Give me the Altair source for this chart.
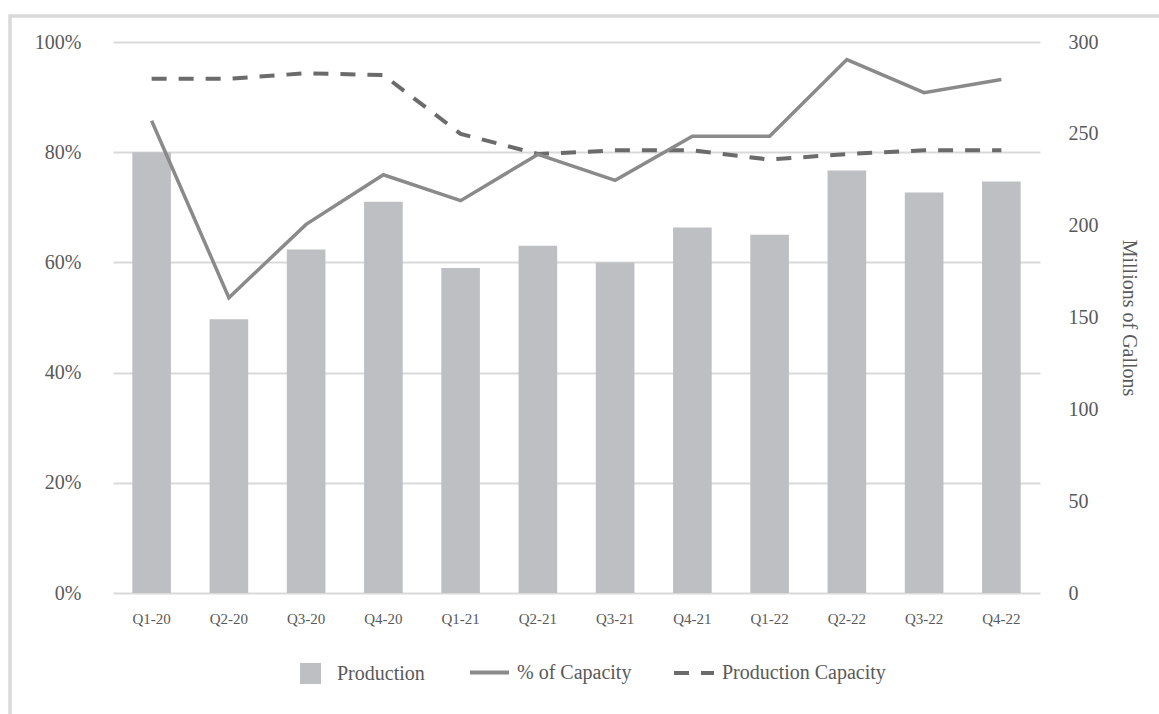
import altair as alt
import pandas as pd

# ---- data ----
quarters = ["Q1-20", "Q2-20", "Q3-20", "Q4-20", "Q1-21", "Q2-21",
            "Q3-21", "Q4-21", "Q1-22", "Q2-22", "Q3-22", "Q4-22"]
production = [240, 149, 187, 213, 177, 189, 180, 199, 195, 230, 218, 224]
pct_of_capacity = [0.857, 0.536, 0.669, 0.759, 0.712, 0.796,
                   0.749, 0.829, 0.829, 0.968, 0.908, 0.932]
production_capacity = [280, 280, 283, 282, 250, 239, 241, 241, 236, 239, 241, 241]

left_ticks = [0, 0.2, 0.4, 0.6, 0.8, 1.0]
right_ticks = [0, 50, 100, 150, 200, 250, 300]

df = pd.DataFrame({
    "quarter": quarters,
    "production": production,
    "pct": pct_of_capacity,
    "capacity": production_capacity,
})

FONT = "Liberation Serif"
TXT = "#595959"
BAR = "#BEBFC2"
SOLID = "#8A8A8A"
DASH = "#6B6B6B"

base = alt.Chart(df)

x_enc = alt.X(
    "quarter:N", sort=quarters, title=None,
    scale=alt.Scale(paddingInner=0.5, paddingOuter=0.25),
    axis=alt.Axis(labelAngle=0, domain=False, ticks=False, grid=False,
                  labelFont=FONT, labelFontSize=15, labelColor=TXT, labelPadding=18),
)

bars = base.transform_calculate(series="'Production'").mark_bar(color=BAR).encode(
    x=x_enc,
    y=alt.Y("production:Q", scale=alt.Scale(domain=[0, 300]),
            axis=alt.Axis(orient="right", values=right_ticks, grid=False, domain=False,
                          ticks=False, labelFont=FONT, labelFontSize=20, labelColor=TXT,
                          labelPadding=28, title="Millions of Gallons", titleFont=FONT,
                          titleFontSize=20, titleFontWeight="normal", titleColor=TXT,
                          titlePadding=20)),
    fill=alt.Fill("series:N", scale=alt.Scale(domain=["Production"], range=[BAR]),
                  legend=alt.Legend(title=None, orient="none", legendX=187, legendY=621,
                                    symbolType="square", symbolSize=441, symbolStrokeWidth=0,
                                    labelFont=FONT, labelFontSize=20, labelColor=TXT,
                                    labelOffset=16, labelLimit=400, padding=0)),
)

solid = base.transform_calculate(series2="'% of Capacity'").mark_line(strokeWidth=3.5).encode(
    x=x_enc,
    y=alt.Y("pct:Q", scale=alt.Scale(domain=[0, 1]),
            axis=alt.Axis(orient="left", values=left_ticks, format=".0%", grid=True,
                          gridColor="#D9D9D9", gridWidth=2, domain=False, ticks=False,
                          labelFont=FONT, labelFontSize=20, labelColor=TXT,
                          labelPadding=32, title=None)),
    stroke=alt.Stroke("series2:N", scale=alt.Scale(domain=["% of Capacity"], range=[SOLID]),
                      legend=alt.Legend(title=None, orient="none", legendX=355, legendY=609,
                                        symbolType="stroke", symbolSize=1521,
                                        symbolStrokeWidth=4, labelFont=FONT,
                                        labelFontSize=20, labelColor=TXT, labelOffset=6,
                                        labelLimit=400, padding=0)),
)

dashed = base.transform_calculate(series3="'Production Capacity'").mark_line(
    strokeWidth=4, color=DASH).encode(
    x=x_enc,
    y=alt.Y("capacity:Q", scale=alt.Scale(domain=[0, 300]), axis=None),
    strokeDash=alt.StrokeDash("series3:N",
                              scale=alt.Scale(domain=["Production Capacity"], range=[[15, 12]]),
                              legend=alt.Legend(title=None, orient="none", legendX=559,
                                                legendY=609, symbolType="stroke",
                                                symbolSize=1600, symbolStrokeWidth=4,
                                                symbolStrokeColor=DASH, labelFont=FONT,
                                                labelFontSize=20, labelColor=TXT,
                                                labelOffset=6, labelLimit=400, padding=0)),
)

frame = alt.Chart(pd.DataFrame({"f": [0]})).mark_rect(
    fill=None, stroke="#D9D9D9", strokeWidth=3.5).encode(
    x=alt.value(-103), x2=alt.value(1500), y=alt.value(-26), y2=alt.value(1500))

chart = alt.layer(frame, bars, dashed, solid).resolve_scale(
    y="independent"
).properties(
    width=927, height=551,
    autosize=alt.AutoSizeParams(type="none"),
    padding={"left": 113, "top": 42, "right": 119, "bottom": 121},
    background="white",
).configure_view(stroke=None)

chart.save("out.html", embed_options={"renderer": "svg", "actions": False})
